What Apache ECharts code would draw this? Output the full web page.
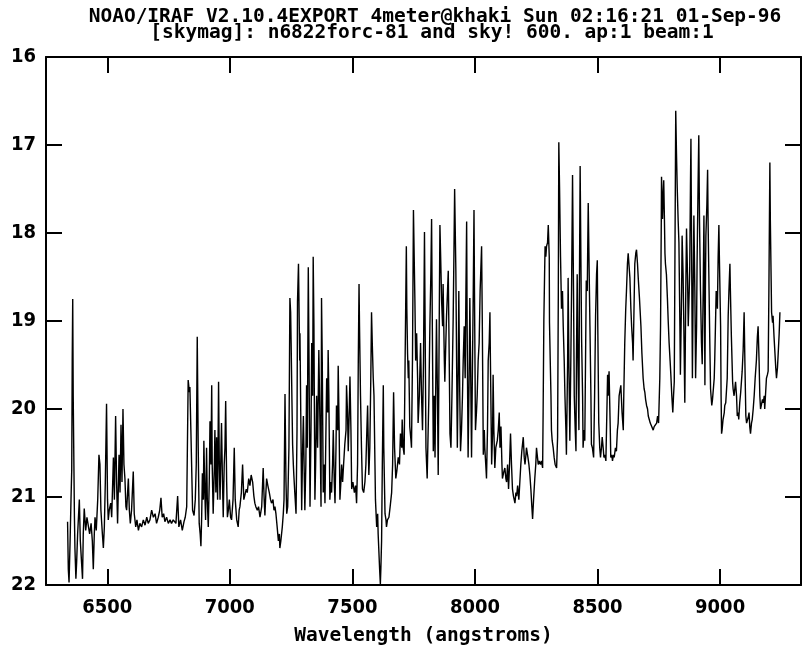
<!DOCTYPE html>
<html>
<head>
<meta charset="utf-8">
<script src="https://cdn.jsdelivr.net/npm/echarts@6/dist/echarts.min.js"></script>
<style>
  html, body { margin: 0; padding: 0; background: #fff; }
  #chart { width: 808px; height: 650px; }
</style>
</head>
<body>
<div id="chart"></div>
<script>
// header lines written by IRAF splot
const titleLines = [
  'NOAO/IRAF V2.10.4EXPORT 4meter@khaki Sun 02:16:21 01-Sep-96',
  '[skymag]: n6822forc-81 and sky! 600. ap:1 beam:1'
];
const waveTicks = [6500, 7000, 7500, 8000, 8500, 9000];

// spectrum, [wavelength (A), sky mag], one array per stretch
const seg6300 = [
  [6338,21.28],[6341,21.82],[6344,21.97],[6348,21.54],[6352,21.03],[6355,20.69],[6357,19.45],[6359,18.75],
  [6361,19.85],[6366,21.23],[6368,21.58],[6372,21.93],[6375,21.74],[6379,21.42],[6386,21.03],[6390,21.50],
  [6395,21.74],[6399,21.93],[6402,21.42],[6406,21.13],[6412,21.38],[6417,21.23],[6423,21.21],[6428,21.42],
  [6434,21.30],[6439,21.50],[6443,21.82],[6447,21.42],[6450,21.23],[6455,21.38],[6461,21.03],[6466,20.52],
  [6470,20.63],[6474,21.15],[6480,21.42],[6484,21.58],[6488,21.34],[6492,20.83],[6497,19.94],[6501,21.03],
  [6504,21.26],[6508,21.15],[6514,21.07],[6518,21.23],[6525,20.55],[6529,21.03],[6534,20.08],[6538,20.83],
  [6542,21.30],[6548,20.52],[6552,20.95],[6556,20.18],[6560,20.83],[6564,20.00],[6568,20.63],[6572,20.79],
  [6576,21.11],[6579,21.15],[6586,20.79],[6590,21.15],[6594,21.30],[6599,21.15],[6606,20.71],[6610,21.19],
  [6616,21.34],[6621,21.26],[6627,21.38],[6633,21.30],[6640,21.34],[6647,21.26],[6654,21.32],[6661,21.23],
  [6667,21.30],[6674,21.26],[6681,21.15],[6688,21.23],[6695,21.19],[6701,21.30],[6708,21.23],[6714,21.15],
  [6719,21.01],[6724,21.23],[6730,21.19],[6735,21.28],[6742,21.23],[6749,21.30],[6756,21.26],[6762,21.30],
  [6769,21.26],[6776,21.28]
];
const seg6800 = [
  [6780,21.30],[6787,20.99],[6792,21.34],[6799,21.26],[6806,21.38],[6813,21.28],[6818,21.23],[6824,21.11],
  [6830,19.67],[6835,19.81],[6837,19.75],[6841,20.24],[6844,20.63],[6848,21.15],[6854,21.21],[6859,21.03],
  [6863,20.63],[6867,19.18],[6871,20.44],[6875,21.30],[6879,21.42],[6882,21.56],[6885,21.23],[6888,20.73],
  [6892,21.03],[6894,20.36],[6898,20.95],[6901,21.26],[6905,20.44],[6908,21.03],[6912,21.34],[6916,20.83],
  [6919,20.14],[6923,20.63],[6926,19.73],[6928,20.63],[6932,21.19],[6937,20.63],[6939,20.24],[6943,20.95],
  [6946,20.32],[6950,21.03],[6954,19.69],[6957,20.63],[6960,21.03],[6964,20.44],[6966,20.16],[6970,20.83],
  [6973,21.23],[6977,20.63],[6980,20.44],[6983,19.91],[6987,20.83],[6990,21.23],[6994,21.15],[6998,21.03],
  [7003,21.23],[7007,21.26],[7013,21.03],[7018,20.44],[7022,21.03],[7028,21.26],[7034,21.34],[7038,21.15],
  [7041,21.11],[7047,20.95],[7052,20.63],[7057,21.03],[7062,21.03],[7067,20.91],[7071,20.95],[7077,20.79],
  [7082,20.87],[7087,20.75],[7093,20.83],[7098,20.99],[7102,21.07],[7106,21.11],[7112,21.15],[7117,21.11],
  [7123,21.23],[7130,21.11],[7136,20.67],[7140,21.03],[7143,21.21],[7147,20.95],[7150,20.79],[7155,20.87],
  [7161,20.95],[7166,21.03],[7170,21.07],[7176,21.03],[7180,21.15],[7184,21.11],[7188,21.19],[7193,21.34],
  [7198,21.50],[7202,21.42],[7204,21.58],[7208,21.50],[7214,21.34],[7218,21.19],[7221,21.03],[7225,19.83],
  [7229,20.83],[7232,21.19],[7236,21.11],[7241,20.44],[7245,18.74],[7248,18.90],[7250,19.25],[7253,19.85],
  [7256,20.40],[7259,20.63],[7261,20.75],[7265,20.95],[7270,21.19],[7274,20.24],[7276,18.78],[7280,18.35],
  [7285,19.45]
];
const seg7300 = [
  [7286,19.14],[7290,20.24],[7293,21.15],[7297,20.44],[7300,20.08],[7304,20.83],[7306,21.15],[7310,20.63],
  [7313,19.73],[7316,20.44],[7320,18.39],[7323,19.45],[7327,21.11],[7331,20.24],[7334,19.25],[7338,19.85],
  [7340,18.27],[7343,19.06],[7347,21.03],[7350,20.63],[7354,19.85],[7358,20.44],[7363,19.33],[7368,20.24],
  [7372,21.11],[7374,18.74],[7377,19.45],[7381,20.95],[7385,20.63],[7388,21.07],[7392,20.24],[7395,19.65],
  [7399,20.04],[7401,19.33],[7404,19.85],[7408,21.03],[7412,20.83],[7415,20.95],[7419,20.63],[7422,20.24],
  [7426,20.83],[7429,21.07],[7433,20.44],[7435,19.96],[7440,20.24],[7442,19.51],[7446,20.24],[7449,21.03],
  [7453,20.83],[7456,20.63],[7460,20.83],[7464,20.63],[7469,20.40],[7474,20.24],[7476,19.73],[7480,20.04],
  [7483,20.48],[7487,20.04],[7490,19.63],[7494,20.24],[7497,20.91],[7502,20.83],[7508,20.95],[7513,20.87],
  [7517,21.07],[7521,20.63],[7524,19.45],[7527,18.58],[7529,19.06],[7533,19.85],[7537,20.44],[7541,20.91],
  [7546,20.95],[7551,20.83],[7555,20.63],[7559,20.24],[7562,19.96],[7565,20.44],[7567,20.75],[7571,20.44],
  [7575,19.65],[7578,18.90],[7581,19.25],[7585,19.65],[7588,19.85],[7592,20.63],[7594,21.03],[7599,21.34],
  [7603,21.19],[7605,21.42],[7608,21.62],[7611,21.82],[7614,21.99],[7616,21.82],[7619,21.50],[7622,20.63],
  [7626,19.73],[7628,20.44],[7633,21.19],[7637,21.26],[7639,21.34],[7643,21.26],[7649,21.23],[7654,21.11],
  [7660,20.95],[7664,20.63],[7668,19.81],[7672,20.44],[7677,20.79],[7681,20.71],[7687,20.55],[7692,20.63],
  [7696,20.28],[7701,20.44],[7703,20.12],[7707,20.44],[7711,20.52],[7715,19.45],[7720,18.15],[7722,18.86],
  [7725,19.37],[7728,19.65],[7730,19.45],[7734,20.20],[7739,20.36],[7741,20.44],[7745,19.45],[7749,17.74],
  [7752,18.27],[7755,18.78],[7758,19.45],[7762,19.14],[7766,19.65],[7768,20.16],[7773,19.85],[7778,19.25],
  [7782,19.85],[7786,20.24],[7790,19.45],[7794,17.99]
];
const seg7800 = [
  [7800,20.44],[7805,20.79],[7809,20.24],[7812,19.85],[7816,19.06],[7820,18.47],[7823,17.84],[7826,19.06],
  [7830,20.48],[7834,19.85],[7837,20.55],[7841,19.45],[7843,18.98],[7847,19.85],[7850,20.75],[7854,19.06],
  [7857,17.91],[7860,18.27],[7864,18.78],[7868,19.06],[7870,18.58],[7875,19.45],[7877,19.69],[7881,19.25],
  [7884,18.94],[7888,18.66],[7891,18.43],[7895,19.45],[7898,20.28],[7902,20.44],[7906,19.85],[7911,18.98],
  [7914,18.27],[7917,17.50],[7919,17.87],[7922,18.43],[7925,19.45],[7928,20.44],[7932,19.45],[7934,18.66],
  [7938,19.85],[7941,20.48],[7945,20.24],[7949,19.85],[7952,19.45],[7956,19.06],[7960,19.65],[7963,18.66],
  [7966,17.87],[7968,19.06],[7972,20.55],[7977,19.45],[7979,18.74],[7982,19.45],[7986,20.55],[7990,19.45],
  [7993,18.66],[7996,17.74],[7998,18.66],[8002,20.24],[8006,20.04],[8009,19.85],[8013,19.45],[8017,19.25],
  [8021,18.66],[8027,18.15],[8030,19.06],[8034,20.52],[8038,20.24],[8040,20.44],[8044,20.63],[8047,20.79],
  [8051,20.24],[8054,19.45],[8058,19.25],[8061,18.90],[8063,19.45],[8068,20.63],[8072,20.24],[8074,19.61],
  [8077,20.24],[8081,20.67],[8085,20.44],[8091,20.36],[8095,20.24],[8099,20.04],[8102,20.44],[8106,20.20],
  [8110,20.63],[8112,20.79],[8118,20.71],[8122,20.67],[8126,20.79],[8129,20.83],[8133,20.63],[8137,20.91],
  [8141,20.63],[8145,20.28],[8149,20.63],[8153,20.91],[8157,20.99],[8163,21.07],[8167,20.95],[8170,20.99],
  [8174,20.87],[8179,21.03],[8183,20.83],[8187,20.63],[8191,20.48],[8197,20.32],[8201,20.55],[8204,20.63],
  [8208,20.52],[8210,20.44],[8216,20.55],[8220,20.63],[8224,20.75],[8228,20.91],[8232,21.11],[8235,21.25],
  [8239,21.03],[8244,20.79],[8248,20.63],[8251,20.44],[8255,20.55],[8258,20.63],[8262,20.59],[8267,20.63],
  [8271,20.59],[8276,20.67],[8278,20.04],[8281,18.98],[8284,18.47],[8286,18.15],[8289,18.27],[8292,18.15],
  [8296,18.11],[8299,17.91],[8303,18.27]
];
const seg8300 = [
  [8304,19.02],[8307,19.45],[8310,19.85],[8312,20.24],[8315,20.36],[8319,20.44],[8323,20.55],[8327,20.63],
  [8333,20.67],[8337,20.32],[8340,18.66],[8342,16.97],[8345,17.48],[8349,18.27],[8353,18.86],[8357,18.66],
  [8360,19.06],[8364,19.45],[8367,19.85],[8371,20.24],[8373,20.52],[8378,19.45],[8380,18.51],[8383,19.45],
  [8387,20.36],[8391,19.45],[8394,18.66],[8398,17.34],[8402,18.66],[8405,19.85],[8409,20.24],[8412,20.48],
  [8414,19.45],[8417,18.47],[8420,19.45],[8424,20.24],[8426,18.66],[8429,17.24],[8432,18.27],[8435,19.21],
  [8439,19.85],[8441,20.44],[8445,20.24],[8448,20.36],[8451,19.45],[8454,18.54],[8458,18.66],[8462,17.66],
  [8465,18.27],[8469,19.06],[8473,19.85],[8475,20.40],[8479,20.44],[8484,20.55],[8488,19.85],[8492,18.94],
  [8496,18.47],[8499,18.31],[8501,19.06],[8505,20.16],[8509,20.44],[8512,20.55],[8516,20.44],[8519,20.32],
  [8523,20.44],[8526,20.55],[8530,20.52],[8534,20.59],[8538,20.04],[8541,19.61],[8543,19.85],[8547,19.57],
  [8552,20.24],[8554,20.55],[8558,20.52],[8561,20.59],[8565,20.52],[8568,20.55],[8573,20.44],[8577,20.48],
  [8581,20.24],[8584,20.16],[8588,19.85],[8591,19.85],[8595,19.73],[8598,19.73],[8600,20.04],[8605,20.24],
  [8607,19.85],[8611,19.25],[8615,18.86],[8618,18.66],[8622,18.35],[8625,18.23],[8628,18.35],[8632,18.51],
  [8636,18.86],[8639,19.06],[8643,19.25],[8645,19.45],[8648,18.98],[8652,18.35],[8656,18.23],[8659,18.19],
  [8663,18.35],[8666,18.51],[8671,18.74],[8677,19.06],[8681,19.37],[8686,19.65],[8690,19.77],[8693,19.81],
  [8696,19.89],[8700,19.96],[8704,20.00],[8707,20.08],[8711,20.12],[8715,20.16],[8717,20.16],[8721,20.20],
  [8727,20.24],[8731,20.20],[8736,20.20],[8741,20.16],[8745,20.08],[8749,20.16],[8751,20.16],[8754,19.65],
  [8757,19.06],[8760,17.87],[8761,17.36],[8764,17.68],[8765,17.84],[8768,17.56],[8770,17.40],[8773,17.87],
  [8775,18.23],[8777,18.35],[8781,18.47],[8785,18.74],[8788,18.98],[8792,19.25],[8796,19.45],[8799,19.61],
  [8803,19.85],[8807,20.04],[8810,19.85],[8813,19.69]
];
const seg8800 = [
  [8815,18.66],[8819,16.61],[8822,17.09],[8825,17.48],[8829,17.87],[8832,18.11],[8836,19.06],[8838,19.61],
  [8843,18.66],[8845,18.03],[8849,18.47],[8852,19.06],[8856,19.93],[8860,18.66],[8863,17.95],[8867,18.47],
  [8870,19.06],[8874,18.66],[8876,18.43],[8879,17.48],[8881,16.93],[8883,17.87],[8887,19.65],[8890,18.66],
  [8893,17.80],[8897,18.66],[8900,19.65],[8904,19.06],[8906,18.35],[8910,17.48],[8913,16.89],[8916,17.87],
  [8920,18.66],[8924,19.25],[8927,19.49],[8931,18.66],[8934,17.80],[8936,18.66],[8938,19.73],[8940,18.66],
  [8942,18.03],[8946,17.68],[8949,17.28],[8951,17.87],[8955,18.66],[8958,19.25],[8961,19.77],[8963,19.85],
  [8966,19.96],[8969,19.89],[8972,19.89],[8976,19.65],[8978,19.45],[8981,19.06],[8984,18.66],[8987,18.74],
  [8989,18.86],[8992,18.27],[8995,17.91],[8997,18.27],[9002,19.06],[9004,19.85],[9006,20.28],[9008,20.24],
  [9012,20.12],[9017,20.04],[9019,19.96],[9023,19.93],[9026,19.93],[9029,19.65],[9033,18.94],[9036,18.66],
  [9040,18.35],[9042,18.66],[9046,19.18],[9051,19.69],[9053,19.77],[9057,19.85],[9060,19.77],[9063,19.69],
  [9067,19.85],[9070,20.08],[9074,20.04],[9076,20.12],[9080,19.93],[9084,19.81],[9090,19.57],[9094,19.33],
  [9098,18.90],[9101,19.45],[9105,20.08],[9108,20.16],[9112,20.16],[9116,20.08],[9118,20.04],[9121,20.20],
  [9124,20.28],[9128,20.16],[9131,20.12],[9135,20.00],[9139,19.85],[9143,19.65],[9148,19.45],[9152,19.18],
  [9155,19.06],[9159,19.45],[9162,19.85],[9165,20.00],[9169,20.00],[9173,19.89],[9176,19.93],[9180,19.85],
  [9182,20.00],[9185,19.85],[9189,19.65],[9193,19.61],[9196,19.57],[9199,18.66],[9203,17.20],[9205,17.87],
  [9210,18.90],[9214,19.02],[9216,18.94],[9220,19.18],[9223,19.33],[9227,19.53],[9230,19.65],[9234,19.53],
  [9237,19.37],[9241,19.14],[9244,18.90]
];

const spectrum = seg6300.concat(seg6800, seg7300, seg7800, seg8300, seg8800);

const chart = echarts.init(document.getElementById('chart'), null, { renderer: 'canvas' });
const titleFont = '"DejaVu Sans Mono", monospace';
const labelFont = '"Liberation Sans Narrow", "DejaVu Sans Condensed", "DejaVu Sans Mono", sans-serif';
const frameLine = { show: true, onZero: false, lineStyle: { color: '#000', width: 2 } };
const tickStyle = { color: '#000', width: 2 };
const plainNumber = v => String(v);

chart.setOption({
  animation: false,
  backgroundColor: '#fff',
  grid: { left: 46, right: 7, top: 57, bottom: 65, outerBoundsMode: 'none' },
  graphic: [
    { type: 'text', x: 435, y: 17,
      style: { text: titleLines[0], fontSize: 19.5, fontWeight: 'bold', fontFamily: titleFont, fill: '#000', align: 'center', verticalAlign: 'middle' } },
    { type: 'text', x: 432, y: 33,
      style: { text: titleLines[1], fontSize: 19.5, fontWeight: 'bold', fontFamily: titleFont, fill: '#000', align: 'center', verticalAlign: 'middle' } }
  ],
  xAxis: [{
    type: 'value', position: 'bottom', min: 6250, max: 9330,
    axisLine: frameLine,
    axisTick: { show: true, inside: true, length: 16, customValues: waveTicks, lineStyle: tickStyle },
    axisLabel: { show: true, customValues: waveTicks, formatter: plainNumber, margin: 13,
      color: '#000', fontSize: 20, fontWeight: 'bold', fontFamily: labelFont },
    splitLine: { show: false },
    name: 'Wavelength (angstroms)', nameLocation: 'middle', nameGap: 41,
    nameTextStyle: { color: '#000', fontSize: 19.5, fontWeight: 'bold', fontFamily: titleFont }
  }, {
    type: 'value', position: 'top', min: 6250, max: 9330,
    axisLine: frameLine,
    axisTick: { show: true, inside: true, length: 16, customValues: waveTicks, lineStyle: tickStyle },
    axisLabel: { show: false },
    splitLine: { show: false }
  }],
  yAxis: [{
    type: 'value', position: 'left', inverse: true, min: 16, max: 22, interval: 1,
    axisLine: frameLine,
    axisTick: { show: true, inside: true, length: 16, lineStyle: tickStyle },
    axisLabel: { margin: 10, formatter: plainNumber, color: '#000', fontSize: 20, fontWeight: 'bold', fontFamily: labelFont },
    splitLine: { show: false }
  }, {
    type: 'value', position: 'right', inverse: true, min: 16, max: 22, interval: 1,
    axisLine: frameLine,
    axisTick: { show: true, inside: true, length: 16, lineStyle: tickStyle },
    axisLabel: { show: false },
    splitLine: { show: false }
  }],
  series: [{
    type: 'line',
    xAxisIndex: 0,
    yAxisIndex: 0,
    data: spectrum,
    showSymbol: false,
    symbol: 'none',
    clip: true,
    lineStyle: { color: '#000', width: 1.4 }
  }]
});
</script>
</body>
</html>
